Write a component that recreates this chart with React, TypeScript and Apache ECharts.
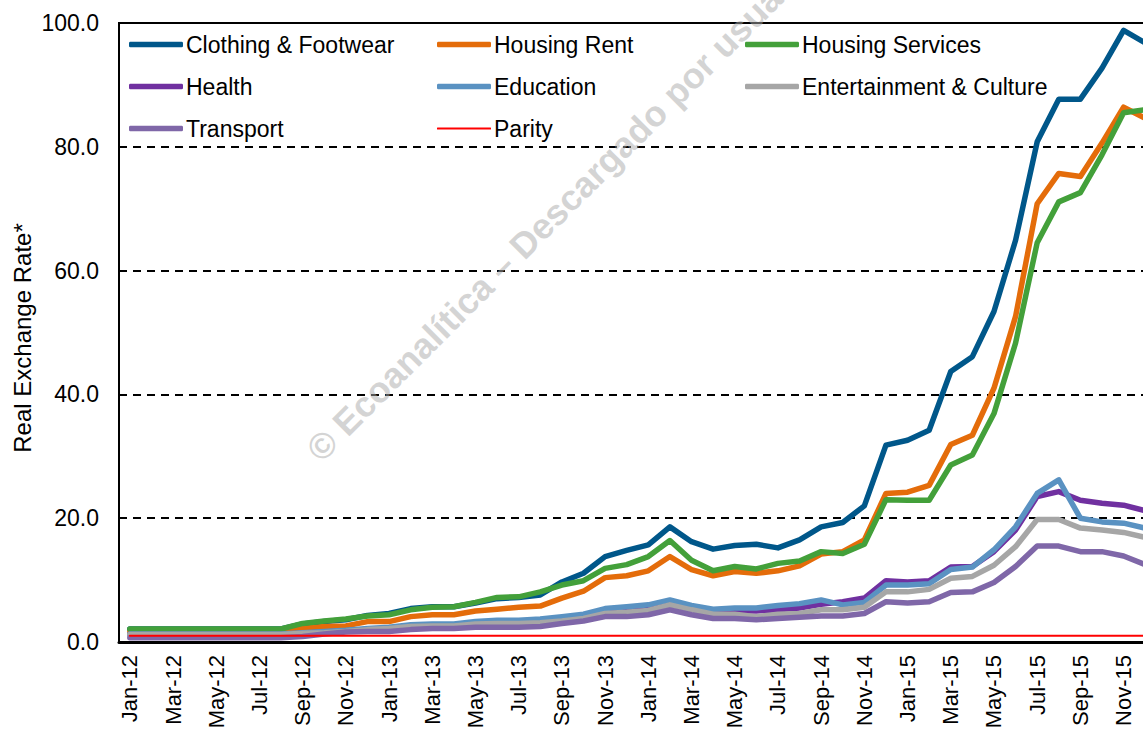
import React, { useEffect, useRef } from "react";
import * as echarts from "echarts";

const categories = [
  "Jan-12", "Feb-12", "Mar-12", "Apr-12", "May-12", "Jun-12", "Jul-12", "Aug-12", "Sep-12", "Oct-12", "Nov-12", "Dec-12",
  "Jan-13", "Feb-13", "Mar-13", "Apr-13", "May-13", "Jun-13", "Jul-13", "Aug-13", "Sep-13", "Oct-13", "Nov-13", "Dec-13",
  "Jan-14", "Feb-14", "Mar-14", "Apr-14", "May-14", "Jun-14", "Jul-14", "Aug-14", "Sep-14", "Oct-14", "Nov-14", "Dec-14",
  "Jan-15", "Feb-15", "Mar-15", "Apr-15", "May-15", "Jun-15", "Jul-15", "Aug-15", "Sep-15", "Oct-15", "Nov-15", "Dec-15",
];

const clothingFootwear = [
  2.1, 2.1, 2.1, 2.1, 2.1, 2.1, 2.1, 2.1, 2.9, 3.3, 3.6, 4.3,
  4.6, 5.4, 5.7, 5.7, 6.3, 7.0, 7.2, 7.6, 9.7, 11.1, 13.8, 14.8,
  15.7, 18.6, 16.2, 15.0, 15.6, 15.8, 15.2, 16.5, 18.6, 19.3, 22.0, 31.8,
  32.6, 34.2, 43.7, 46.1, 53.4, 64.9, 80.8, 87.7, 87.7, 92.7, 98.8, 96.8,
];
const housingRent = [
  1.6, 1.6, 1.6, 1.6, 1.6, 1.6, 1.6, 1.6, 2.2, 2.5, 2.6, 3.3,
  3.3, 4.1, 4.4, 4.4, 5.0, 5.3, 5.6, 5.8, 7.1, 8.2, 10.4, 10.7,
  11.5, 13.8, 11.7, 10.7, 11.4, 11.1, 11.5, 12.3, 14.2, 14.6, 16.5, 24.0,
  24.2, 25.3, 31.9, 33.4, 41.0, 52.6, 70.8, 75.7, 75.2, 80.6, 86.4, 84.6,
];
const housingServices = [
  2.1, 2.1, 2.1, 2.1, 2.1, 2.1, 2.1, 2.1, 3.0, 3.4, 3.7, 4.2,
  4.4, 5.2, 5.6, 5.7, 6.4, 7.2, 7.3, 8.1, 9.2, 9.9, 11.9, 12.5,
  13.8, 16.4, 13.2, 11.5, 12.2, 11.8, 12.7, 13.1, 14.6, 14.3, 15.8, 23.0,
  22.9, 22.9, 28.6, 30.2, 36.9, 48.3, 64.5, 71.1, 72.6, 78.7, 85.5, 86.0,
];
const health = [
  1.2, 1.2, 1.2, 1.2, 1.2, 1.2, 1.2, 1.2, 1.4, 1.6, 1.8, 2.0,
  2.2, 2.5, 2.6, 2.6, 2.9, 3.1, 3.2, 3.3, 3.6, 3.9, 4.8, 5.0,
  5.3, 6.2, 5.5, 4.9, 5.0, 5.0, 5.2, 5.5, 6.1, 6.5, 7.1, 9.9,
  9.7, 9.9, 12.1, 12.2, 14.6, 18.1, 23.5, 24.3, 22.9, 22.4, 22.1, 21.2,
];
const education = [
  1.3, 1.3, 1.3, 1.3, 1.3, 1.3, 1.3, 1.3, 1.5, 1.7, 1.9, 2.2,
  2.4, 2.8, 2.9, 2.9, 3.3, 3.5, 3.5, 3.7, 4.1, 4.5, 5.4, 5.7,
  6.0, 6.8, 5.9, 5.3, 5.5, 5.5, 5.9, 6.2, 6.8, 6.0, 6.4, 9.2,
  9.2, 9.4, 11.7, 12.1, 14.9, 18.6, 24.0, 26.2, 20.0, 19.4, 19.2, 18.4,
];
const entertainmentCulture = [
  1.2, 1.2, 1.2, 1.2, 1.2, 1.2, 1.2, 1.2, 1.4, 1.5, 1.7, 2.0,
  2.2, 2.5, 2.6, 2.6, 2.9, 3.0, 3.0, 3.1, 3.4, 3.8, 4.6, 4.8,
  5.1, 6.0, 5.2, 4.5, 4.5, 4.1, 4.5, 4.6, 5.2, 5.2, 5.6, 8.1,
  8.1, 8.5, 10.3, 10.6, 12.4, 15.4, 19.8, 19.8, 18.4, 18.1, 17.7, 16.9,
];
const transport = [
  0.7, 0.7, 0.7, 0.7, 0.7, 0.7, 0.7, 0.7, 0.9, 1.3, 1.6, 1.7,
  1.7, 2.0, 2.2, 2.2, 2.4, 2.4, 2.4, 2.5, 3.0, 3.4, 4.1, 4.1,
  4.4, 5.2, 4.4, 3.8, 3.8, 3.6, 3.8, 4.0, 4.2, 4.2, 4.6, 6.5,
  6.3, 6.5, 8.0, 8.1, 9.6, 12.2, 15.5, 15.5, 14.6, 14.6, 13.9, 12.5,
];
const parity = [
  1, 1, 1, 1, 1, 1, 1, 1, 1, 1, 1, 1,
  1, 1, 1, 1, 1, 1, 1, 1, 1, 1, 1, 1,
  1, 1, 1, 1, 1, 1, 1, 1, 1, 1, 1, 1,
  1, 1, 1, 1, 1, 1, 1, 1, 1, 1, 1, 1,
];

const seriesNames = [
  "Clothing & Footwear", "Housing Rent", "Housing Services", "Health",
  "Education", "Entertainment & Culture", "Transport", "Parity",
];
const seriesData = [clothingFootwear, housingRent, housingServices, health, education, entertainmentCulture, transport, parity];
const seriesColors = ["#00578A", "#E46C0A", "#43A03A", "#7030A0", "#5A92C2", "#A6A6A6", "#7F67A8", "#FF0000"];
const legendPos = [[129, 33], [437, 33], [745, 33], [129, 75], [437, 75], [745, 75], [129, 117], [437, 117]];

const FONT = "'Liberation Sans', Arial, sans-serif";

export default function App() {
  const ref = useRef<HTMLDivElement>(null);
  useEffect(() => {
    if (!ref.current) return;
    const chart = echarts.init(ref.current, null, { renderer: "svg" });
    const series = seriesNames.map((name, i) => ({
      name,
      type: "line",
      data: seriesData[i],
      symbol: "none",
      color: seriesColors[i],
      lineStyle: { width: name === "Parity" ? 2 : 5.5, color: seriesColors[i], join: "round", cap: "round" },
      emphasis: { disabled: true },
      z: 2 + i,
    }));
    const legends = seriesNames.map((name, i) => ({
      data: [name],
      left: legendPos[i][0],
      top: legendPos[i][1],
      padding: 0,
      icon: "roundRect",
      itemWidth: 54,
      itemHeight: name === "Parity" ? 2 : 5.5,
      selectedMode: false,
      textStyle: { fontSize: 23, color: "#000", fontFamily: FONT, padding: [0, 0, 0, -2] },
    }));
    chart.setOption({
      animation: false,
      textStyle: { fontFamily: FONT },
      grid: {
        left: 119, right: 20, top: 23, bottom: 88,
        show: true, borderColor: "#000", borderWidth: 2,
        containLabel: false, outerBoundsMode: "none",
      },
      legend: legends,
      xAxis: {
        type: "category",
        data: categories,
        boundaryGap: true,
        axisLine: { lineStyle: { color: "#000", width: 3 } },
        axisTick: { show: false },
        axisLabel: { interval: 1, rotate: 90, fontSize: 22, color: "#000", margin: 13, fontFamily: FONT },
        splitLine: { show: false },
      },
      yAxis: {
        type: "value",
        min: 0,
        max: 100,
        interval: 20,
        axisLine: { show: true, lineStyle: { color: "#000", width: 2 } },
        axisTick: { show: false },
        axisLabel: { fontSize: 23, color: "#000", margin: 20, fontFamily: FONT, formatter: (v: number) => v.toFixed(1) },
        splitLine: { show: true, lineStyle: { color: "#000", width: 2, type: [8, 6] } },
      },
      graphic: [
        {
          type: "text",
          x: 22,
          y: 338,
          rotation: Math.PI / 2,
          style: { text: "Real Exchange Rate*", fill: "#000", font: `24px ${FONT}`, textAlign: "center", textVerticalAlign: "middle" },
        },
        {
          type: "text",
          x: 313,
          y: 455,
          rotation: Math.PI / 4,
          z: 100,
          silent: true,
          style: {
            text: "© Ecoanalítica – Descargado por usuario",
            font: `bold 36px ${FONT}`,
            fill: "rgba(170,170,170,0.5)",
            textAlign: "left",
            textVerticalAlign: "middle",
          },
        },
      ],
      series,
    });
    return () => chart.dispose();
  }, []);
  return (
    <div style={{ position: "fixed", left: 0, top: 0, width: 1143, height: 730, overflow: "hidden", background: "#fff" }}>
      <div ref={ref} style={{ width: 1176, height: 730 }} />
    </div>
  );
}
